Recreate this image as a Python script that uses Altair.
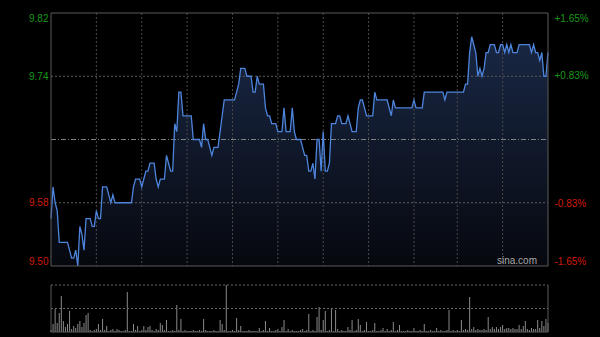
import altair as alt
import pandas as pd

# ---------------- data ----------------
prices = [
    9.56, 9.60, 9.58, 9.57, 9.53, 9.53, 9.53, 9.53, 9.53, 9.52,
    9.51, 9.51, 9.52, 9.50, 9.55, 9.54, 9.52, 9.56, 9.56, 9.56,
    9.55, 9.55, 9.57, 9.56, 9.56, 9.60, 9.60, 9.60, 9.59, 9.58,
    9.59, 9.58, 9.58, 9.58, 9.58, 9.58, 9.58, 9.58, 9.58, 9.58,
    9.60, 9.61, 9.61, 9.61, 9.60, 9.61, 9.62, 9.62, 9.63, 9.63,
    9.63, 9.61, 9.60, 9.61, 9.61, 9.61, 9.64, 9.63, 9.62, 9.62,
    9.68, 9.67, 9.72, 9.72, 9.69, 9.69, 9.69, 9.69, 9.69, 9.66,
    9.66, 9.66, 9.66, 9.65, 9.68, 9.66, 9.66, 9.65, 9.64, 9.65,
    9.65, 9.65, 9.67, 9.69, 9.71, 9.71, 9.71, 9.71, 9.71, 9.71,
    9.72, 9.73, 9.75, 9.75, 9.75, 9.74, 9.74, 9.74, 9.72, 9.72,
    9.74, 9.73, 9.73, 9.73, 9.70, 9.69, 9.69, 9.68, 9.68, 9.68,
    9.67, 9.67, 9.67, 9.70, 9.67, 9.67, 9.67, 9.70, 9.67, 9.66,
    9.66, 9.66, 9.65, 9.64, 9.64, 9.62, 9.62, 9.63, 9.61, 9.66,
    9.66, 9.62, 9.67, 9.62, 9.62, 9.63, 9.68, 9.68, 9.68, 9.69,
    9.69, 9.68, 9.68, 9.68, 9.69, 9.68, 9.67, 9.67, 9.67, 9.70,
    9.71, 9.71, 9.70, 9.69, 9.69, 9.69, 9.69, 9.72, 9.71, 9.71,
    9.71, 9.71, 9.71, 9.71, 9.70, 9.69, 9.71, 9.70, 9.70, 9.70,
    9.70, 9.70, 9.70, 9.70, 9.70, 9.70, 9.71, 9.70, 9.70, 9.70,
    9.70, 9.72, 9.72, 9.72, 9.72, 9.72, 9.72, 9.72, 9.72, 9.72,
    9.72, 9.71, 9.72, 9.72, 9.72, 9.72, 9.72, 9.72, 9.72, 9.72,
    9.72, 9.73, 9.73, 9.77, 9.79, 9.78, 9.77, 9.74, 9.75, 9.74,
    9.75, 9.77, 9.77, 9.78, 9.78, 9.78, 9.77, 9.77, 9.78, 9.78,
    9.77, 9.78, 9.77, 9.78, 9.77, 9.77, 9.77, 9.78, 9.78, 9.78,
    9.78, 9.78, 9.78, 9.77, 9.78, 9.77, 9.77, 9.76, 9.77, 9.74,
    9.74, 9.77,
]

volumes = [
    2, 8, 23, 9, 19, 36, 11, 5, 8, 21, 3, 6, 4, 8, 11, 5, 9, 17, 19, 2,
    1, 2, 3, 8, 2, 13, 2, 6, 1, 2, 3, 1, 3, 2, 1, 1, 2, 40, 1, 1,
    8, 2, 6, 1, 2, 6, 2, 5, 6, 2, 1, 3, 2, 9, 7, 2, 12, 1, 1, 2,
    1, 27, 2, 13, 1, 2, 1, 1, 1, 2, 1, 1, 2, 1, 13, 2, 1, 1, 1, 2,
    1, 1, 12, 8, 2, 47, 1, 1, 2, 1, 14, 2, 6, 1, 1, 1, 2, 1, 1, 1,
    1, 4, 1, 2, 11, 1, 4, 1, 1, 2, 3, 1, 5, 12, 1, 3, 1, 2, 1, 1,
    1, 2, 3, 1, 2, 18, 1, 2, 1, 15, 25, 2, 12, 21, 1, 2, 24, 1, 22, 3,
    1, 2, 1, 1, 5, 2, 12, 1, 2, 13, 7, 1, 2, 10, 1, 1, 2, 9, 1, 1,
    2, 4, 1, 3, 1, 2, 10, 1, 2, 7, 1, 1, 1, 2, 1, 1, 4, 1, 1, 2,
    1, 8, 1, 1, 2, 1, 1, 4, 1, 2, 1, 1, 2, 22, 1, 2, 1, 2, 1, 12,
    2, 3, 2, 35, 3, 5, 2, 3, 2, 2, 3, 2, 15, 3, 5, 3, 5, 3, 5, 7,
    3, 4, 4, 3, 4, 3, 3, 7, 3, 6, 11, 3, 2, 4, 3, 3, 12, 4, 11, 6,
    13, 9,
]

prev_close = 9.66
price_domain = [9.50, 9.82]
price_ticks = [9.50, 9.58, 9.74, 9.82]
price_grid = [9.58, 9.74]
pct_ticks = [-1.65, -0.83, 0.83, 1.65]
pct_labels = ["-1.65%", "-0.83%", "+0.83%", "+1.65%"]
grid_minutes = [22, 44, 66, 88, 110, 132, 154, 176, 197, 219]
watermark = ["sina.com"]

# ---------------- styling / layout ----------------
FONT = "Liberation Sans"
GREEN = "#189818"
RED = "#d01a0a"
GRID = "#4a4a4a"
FRAME = "#5a5a5a"

W = 497          # plot width
H = 253          # price panel height
VTOP = 272       # volume panel top (relative)
VBOT = 319       # volume panel bottom (relative) = total height

n = len(prices)
df = pd.DataFrame({"t": list(range(n)), "price": prices})
vdf = pd.DataFrame({"t": list(range(len(volumes))), "vol": volumes})
vmax = max(volumes)

xscale = alt.Scale(domain=[0, n - 1], nice=False, zero=False, padding=0)
X = alt.X("t:Q", scale=xscale, axis=None)

pscale = alt.Scale(domain=price_domain, range=[H, 0], nice=False, zero=False)
pct_scale = alt.Scale(domain=[pct_ticks[0], pct_ticks[-1]], range=[H, 0], nice=False, zero=False)
vscale = alt.Scale(domain=[0, vmax], range=[VBOT, VTOP], nice=False, zero=False)

yaxis = alt.Axis(values=price_ticks, format=".2f", grid=False, labelFlush=True,
                 ticks=False, tickSize=0, domain=False, labelPadding=3,
                 labelFontSize=10, labelFont=FONT,
                 labelColor={"condition": {"test": f"datum.value > {prev_close}", "value": GREEN},
                             "value": RED},
                 title=None)

grad = alt.Gradient(
    gradient="linear",
    stops=[alt.GradientStop(color="#1c2c4c", offset=0),
           alt.GradientStop(color="#070910", offset=1)],
    x1=0, x2=0, y1=0, y2=1,
)

area = alt.Chart(df).mark_area(color=grad, opacity=0.9).encode(
    x=X,
    y=alt.Y("price:Q", scale=pscale, axis=yaxis),
    y2=alt.datum(price_domain[0]),
)

vgrid = alt.Chart(pd.DataFrame({"t": grid_minutes})).mark_rule(
    color=GRID, strokeDash=[2, 2], strokeWidth=1
).encode(x=X, y=alt.value(0), y2=alt.value(H))

hgrid = alt.Chart(pd.DataFrame({"price": price_grid})).mark_rule(
    color="#5e5e5e", strokeDash=[2, 2], strokeWidth=1
).encode(y=alt.Y("price:Q", scale=pscale, axis=None), x=alt.value(0), x2=alt.value(W))

label_expr = " : ".join(
    f"abs(datum.value - ({v})) < 0.001 ? '{s}'" for v, s in zip(pct_ticks, pct_labels)
) + " : ''"

pct_rule = alt.Chart(pd.DataFrame({"pct": [0.0]})).mark_rule(
    color="#808080", strokeDash=[5, 2, 1, 2], strokeWidth=1
).encode(
    x=alt.value(0), x2=alt.value(W),
    y=alt.Y("pct:Q", scale=pct_scale,
            axis=alt.Axis(orient="right", values=pct_ticks, labelExpr=label_expr,
                          labelFlush=True, ticks=False, tickSize=0, domain=False, grid=False,
                          labelPadding=6, labelFontSize=10, labelFont=FONT,
                          labelColor={"condition": {"test": "datum.value > 0", "value": GREEN},
                                      "value": RED},
                          title=None)),
)

line = alt.Chart(df).mark_line(color="#4d84dc", strokeWidth=1.3).encode(
    x=X, y=alt.Y("price:Q", scale=pscale, axis=None),
)

frame = alt.Chart(pd.DataFrame({"a": [0]})).mark_rect(
    fill=None, stroke=FRAME, strokeWidth=1
).encode(x=alt.value(0), x2=alt.value(W), y=alt.value(0), y2=alt.value(H))

wm = alt.Chart(pd.DataFrame({"label": watermark})).mark_text(
    align="right", baseline="middle", color="#a8a8a8", fontSize=10, font=FONT
).encode(text="label:N", x=alt.value(486), y=alt.value(248))

bars = alt.Chart(vdf).mark_bar(size=1, color="#8a8a8a").encode(
    x=X,
    y=alt.Y("vol:Q", scale=vscale, axis=None),
    y2=alt.datum(0),
)

vgridlines = alt.Chart(pd.DataFrame({"vol": [vmax / 2, vmax]})).mark_rule(
    color="#6a6a6a", strokeDash=[2, 2], strokeWidth=1
).encode(y=alt.Y("vol:Q", scale=vscale, axis=None), x=alt.value(0), x2=alt.value(W))

vframe_sides = alt.Chart(pd.DataFrame({"side": ["left", "right"], "px": [0, W]})).mark_rule(
    color=FRAME, strokeWidth=1
).encode(x=alt.X("px:Q", scale=None, axis=None), y=alt.value(VTOP), y2=alt.value(VBOT))

vframe_bottom = alt.Chart(pd.DataFrame({"a": [0]})).mark_rule(color=FRAME, strokeWidth=1).encode(
    x=alt.value(0), x2=alt.value(W), y=alt.value(VBOT)
)

chart = alt.layer(
    area, vgrid, hgrid, pct_rule, line, frame, wm, bars, vgridlines, vframe_sides, vframe_bottom
).resolve_scale(y="independent").properties(
    width=W, height=VBOT,
    background="#000000",
    autosize=alt.AutoSizeParams(type="none"),
    padding={"left": 51, "top": 13, "right": 52, "bottom": 5},
).configure_view(stroke=None, fill="#000000")

chart.save("out.html", embed_options={"renderer": "svg", "actions": False})
